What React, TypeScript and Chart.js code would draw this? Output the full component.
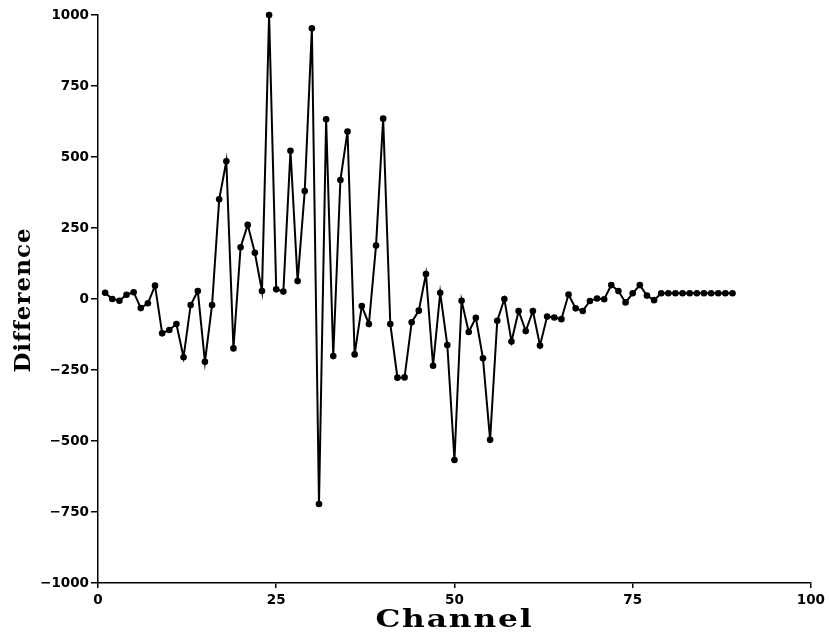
import React, { useEffect, useRef } from "react";
import { Chart, registerables } from "chart.js";

Chart.register(...registerables);

const channels: number[] = [
  1, 2, 3, 4, 5, 6, 7, 8, 9, 10, 11, 12, 13, 14, 15, 16, 17, 18, 19, 20,
  21, 22, 23, 24, 25, 26, 27, 28, 29, 30, 31, 32, 33, 34, 35, 36, 37, 38, 39, 40,
  41, 42, 43, 44, 45, 46, 47, 48, 49, 50, 51, 52, 53, 54, 55, 56, 57, 58, 59, 60,
  61, 62, 63, 64, 65, 66, 67, 68, 69, 70, 71, 72, 73, 74, 75, 76, 77, 78, 79, 80,
  81, 82, 83, 84, 85, 86, 87, 88, 89,
];

const differences: number[] = [
  22, 0, -6, 15, 24, -32, -15, 47, -121, -109,
  -88, -205, -21, 28, -221, -21, 351, 485, -174, 182,
  261, 163, 28, 1000, 34, 26, 522, 63, 380, 953,
  -722, 633, -201, 419, 590, -195, -25, -88, 188, 635,
  -88, -277, -276, -82, -41, 88, -235, 22, -162, -567,
  -6, -116, -66, -209, -496, -77, 0, -150, -42, -113,
  -42, -164, -62, -65, -71, 16, -33, -42, -7, 2,
  -1, 49, 28, -12, 20, 49, 12, -4, 20, 20,
  20, 20, 20, 20, 20, 20, 20, 20, 20,
];

const xTicks: number[] = [0, 25, 50, 75, 100];
const yTicks: number[] = [-1000, -750, -500, -250, 0, 250, 500, 750, 1000];

const xTitle = "Channel";
const yTitle = "Difference";

const titlePlugin = {
  id: "axisTitles",
  afterDraw(chart: any) {
    const ctx = chart.ctx as CanvasRenderingContext2D;
    const { left, right, top, bottom } = chart.chartArea;
    ctx.save();
    ctx.fillStyle = "#000";
    ctx.textAlign = "center";
    ctx.textBaseline = "alphabetic";
    ctx.font = 'bold 25px "DejaVu Serif"';
    (ctx as any).letterSpacing = "1.5px";
    ctx.translate((left + right) / 2, 627);
    ctx.scale(1.25, 1);
    ctx.fillText(xTitle, 0, 0);
    ctx.restore();

    ctx.save();
    ctx.fillStyle = "#000";
    ctx.textAlign = "center";
    ctx.textBaseline = "alphabetic";
    ctx.font = 'bold 23px "DejaVu Serif"';
    (ctx as any).letterSpacing = "1px";
    ctx.translate(30, (top + bottom) / 2 + 1);
    ctx.rotate(-Math.PI / 2);
    ctx.fillText(yTitle, 0, 0);
    ctx.restore();
  },
};

export default function App() {
  const ref = useRef<HTMLCanvasElement | null>(null);

  useEffect(() => {
    document.body.style.margin = "0";
    const canvas = ref.current;
    if (!canvas) return;
    const points = channels.map((c, i) => ({ x: c, y: differences[i] }));
    const tickFont = { family: '"DejaVu Sans"', size: 13.5, weight: "bold" as const };
    const chart = new Chart(canvas, {
      type: "line",
      data: {
        datasets: [
          {
            data: points,
            borderColor: "#000",
            backgroundColor: "#000",
            borderWidth: 2,
            pointRadius: 3.3,
            pointBackgroundColor: "#000",
            pointBorderColor: "#000",
            pointBorderWidth: 0,
            tension: 0,
            clip: false as any,
          },
        ],
      },
      options: {
        responsive: false,
        animation: false,
        devicePixelRatio: 1,
        layout: { padding: { top: 15, right: 17, left: 0, bottom: 0 } },
        plugins: {
          legend: { display: false },
          tooltip: { enabled: false },
          title: { display: false },
        },
        scales: {
          x: {
            type: "linear",
            min: 0,
            max: 100,
            afterFit: (s: any) => {
              s.height = 52;
            },
            afterBuildTicks: (s: any) => {
              s.ticks = xTicks.map((v) => ({ value: v }));
            },
            ticks: {
              color: "#000",
              font: tickFont,
              padding: 4,
              maxRotation: 0,
              autoSkip: false,
              callback: (v: any) => String(v),
            },
            grid: {
              display: true,
              drawOnChartArea: false,
              drawTicks: true,
              tickLength: 5,
              color: "#000",
              lineWidth: 1.5,
            },
            border: { display: true, color: "#000", width: 1.5 },
          },
          y: {
            type: "linear",
            min: -1000,
            max: 1000,
            afterFit: (s: any) => {
              s.width = 98;
            },
            afterBuildTicks: (s: any) => {
              s.ticks = yTicks.map((v) => ({ value: v }));
            },
            ticks: {
              color: "#000",
              font: tickFont,
              padding: 2,
              autoSkip: false,
              callback: (v: any) => String(v).replace("-", "\u2212"),
            },
            grid: {
              display: true,
              drawOnChartArea: false,
              drawTicks: true,
              tickLength: 7,
              color: "#000",
              lineWidth: 1.5,
            },
            border: { display: true, color: "#000", width: 1.5 },
          },
        },
      },
      plugins: [titlePlugin],
    });
    return () => chart.destroy();
  }, []);

  return (
    <div style={{ width: 829, height: 635, background: "#fff" }}>
      <canvas ref={ref} width={829} height={635} style={{ display: "block" }} />
    </div>
  );
}
